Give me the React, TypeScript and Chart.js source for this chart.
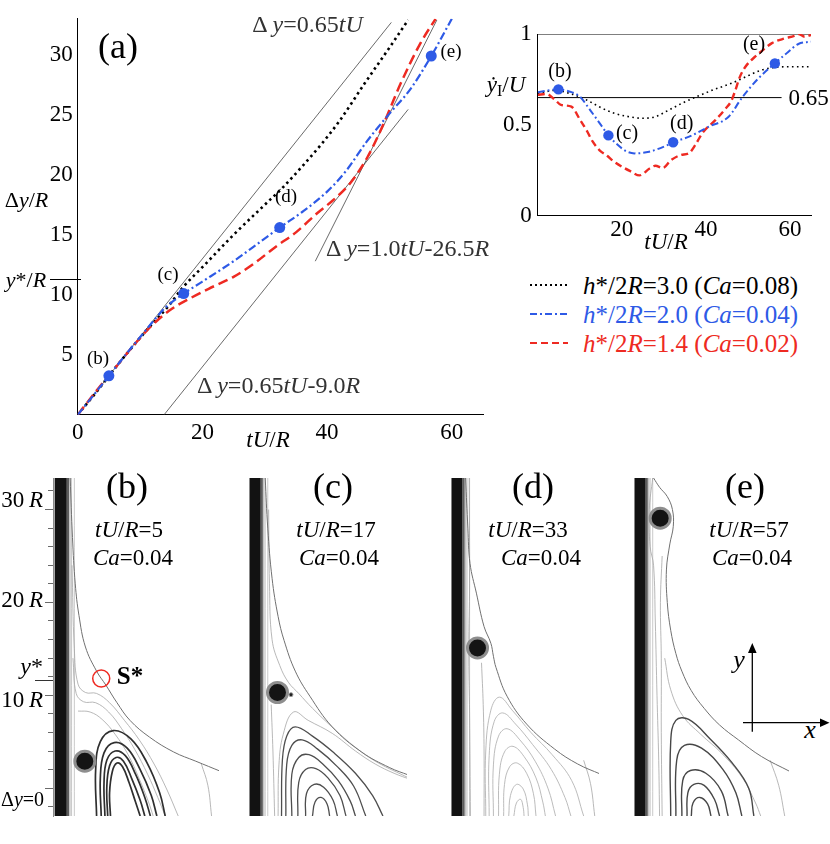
import { useEffect, useRef, type ReactNode } from "react"
import { Chart, registerables, type ChartConfiguration } from "chart.js"

Chart.register(...registerables)

type Pt = [number, number]

const SERIF = "'Liberation Serif', 'Times New Roman', Times, serif"
const BLUE = "#2e5ae6"
const RED = "#ee2a22"

// ---- (a) bubble rise, Δy/R against tU/R
const trajBlack: Pt[] = [
  [0, 0], [3, 1.9], [6, 3.9], [9, 5.8], [12, 7.6], [14.3, 8.9], [17, 10.7], [20, 12.3], [25, 15.0],
  [30, 17.5], [33, 19.0], [36, 20.7], [39, 22.5], [42, 24.5], [46, 27.6], [50, 30.6], [53, 32.9],
]
const trajBlue: Pt[] = [
  [0, 0], [2.5, 1.6], [5, 3.25], [8, 5.2], [11, 7.1], [14, 8.9], [17, 10.1], [20, 11.1], [25, 12.8],
  [29, 14.3], [32.4, 15.6], [36, 16.9], [40, 18.6], [43, 20.3], [46.4, 22.8], [50, 25.1], [53.3, 27.1],
  [56.7, 29.9], [60, 33],
]
const trajRed: Pt[] = [
  [0, 0], [3, 2], [6, 3.9], [9, 5.8], [12, 7.5], [15, 8.8], [18, 9.7], [21, 10.5], [25, 11.5], [28, 12.5],
  [32, 14.1], [35, 15.2], [38.4, 16.8], [41, 17.9], [43.7, 19.3], [46.4, 21.4], [48.5, 23.6], [50, 25.4],
  [51.7, 27.5], [55, 31], [57.4, 33],
]
const trajMarks: Pt[] = [[5, 3.25], [17, 10.1], [32.4, 15.6], [56.7, 29.9]]
const fit065: Pt[] = [[0, 0], [50.3, 32.7]]
const fit065b: Pt[] = [[13.85, 0], [53, 25.45]]
const fit10: Pt[] = [[38.1, 12.8], [57.6, 32.9]]
const aTicksX = [0, 20, 40, 60]
const aTicksY = [5, 10, 15, 20, 25, 30]

// ---- inset, rise velocity against tU/R
const velBlack: Pt[] = [
  [0, 0.67], [4, 0.69], [8, 0.67], [11.6, 0.637], [15, 0.595], [18, 0.565], [21, 0.548], [25, 0.536],
  [28, 0.545], [30.5, 0.573], [34.4, 0.62], [38.3, 0.66], [42, 0.695], [46.2, 0.73], [50, 0.77],
  [53, 0.8], [56, 0.815], [60, 0.82], [65, 0.82],
]
const velBlue: Pt[] = [
  [0, 0.68], [4.9, 0.695], [8, 0.68], [10, 0.655], [12.5, 0.58], [15, 0.5], [16.8, 0.442], [19, 0.39],
  [21, 0.355], [23, 0.343], [26.5, 0.352], [30.5, 0.385], [32.2, 0.404], [36, 0.435], [40.7, 0.49],
  [45.4, 0.545], [48.6, 0.65], [52.5, 0.756], [56.4, 0.838], [59.5, 0.9], [62, 0.945], [65, 0.958],
]
const velRed: Pt[] = [
  [0, 0.665], [2, 0.67], [4, 0.64], [5.5, 0.61], [8, 0.6], [10, 0.53], [11.6, 0.47], [13, 0.41],
  [14.7, 0.36], [16.5, 0.33], [18, 0.3], [20, 0.27], [22, 0.245], [24.2, 0.222], [26.6, 0.26],
  [28, 0.275], [29.7, 0.262], [31.7, 0.306], [34, 0.334], [36, 0.345], [37.5, 0.39], [39.1, 0.453],
  [42.3, 0.527], [44.7, 0.59], [46, 0.63], [47, 0.69], [48, 0.76], [49.4, 0.82], [51.7, 0.875],
  [54, 0.92], [55.7, 0.95], [58.8, 0.976], [61, 0.99], [62, 1.0], [63.5, 0.985], [65, 0.995],
]
const velMarks: Pt[] = [[4.9, 0.695], [16.8, 0.442], [32.2, 0.404], [56.4, 0.838]]
const velTop: Pt[] = [[0, 1], [65, 1]]
const velRef: Pt[] = [[0, 0.65], [58, 0.65]]
const vTicksX = [20, 40, 60]
const vTicksY = [0, 0.5, 1]

// ---- flow panels (b)-(e), x and y in R, wall surface at x = 0
const wallX = [-1.35, 0]
const wallEdge = [0.1, 0.32]
const nearWall = [0.5, 0.8]
const panelMinorTicks = [-2, 0, 2, 4, 6, 8, 10, 12, 14, 16, 18, 20, 22, 24, 26, 28, 30, 32]
const panelMajorTicks = [0, 10, 20, 30]

const bubbleB: Pt = [1.93, 2.9]
const saddleB: Pt = [3.7, 11.8]
const sepB: Pt[] = [
  [0.35, 33.4], [0.6, 27], [0.9, 22], [1.3, 18.6], [2.0, 15.2], [3.2, 12.6], [4.2, 11.1], [5.4, 9.2],
  [6.8, 7.3], [8.9, 5.5], [11.5, 3.9], [13.9, 2.9], [16.6, 1.8],
]
const innerB: Pt[][] = [
  [[0.55, 24], [0.8, 15], [1.2, 11.2], [2.0, 10.3], [3.2, 10.2], [4.6, 9.2], [6.2, 7.3], [7.8, 5.2], [9.4, 2.6], [10.8, -0.2], [12, -3]],
  [[0.65, 14], [1.0, 10.2], [1.8, 9.3], [3.1, 9.2], [4.5, 8.2], [5.9, 6.4], [7.3, 4.2], [8.7, 1.5], [9.8, -1], [10.6, -3]],
  [[1.2, 8.3], [2.5, 8.2], [3.8, 7.4], [5.2, 5.8], [6.6, 3.6], [7.8, 1.0], [8.8, -1.5], [9.3, -3]],
  [[14.5, 2.6], [15.2, 0.3], [15.6, -3]],
]
const loopsB: Pt[][] = [
  [[4.7, -3], [4.6, -0.5], [4.9, 1.8], [5.4, 2.7], [6.0, 2.3], [6.7, 0.6], [7.4, -1.5], [7.9, -3]],
  [[4.4, -3], [4.3, 0], [4.6, 2.4], [5.3, 3.3], [6.1, 2.9], [7.0, 1.0], [7.9, -1.3], [8.4, -3]],
  [[4.1, -3], [4.0, 0.5], [4.3, 3.0], [5.2, 4.0], [6.3, 3.5], [7.4, 1.5], [8.4, -1.0], [9.0, -3]],
  [[3.7, -3], [3.6, 1.0], [4.0, 3.8], [5.1, 4.9], [6.5, 4.3], [7.9, 2.0], [9.1, -0.8], [9.7, -3]],
  [[3.2, -3], [3.1, 2.0], [3.6, 5.0], [5.0, 6.2], [6.9, 5.3], [8.6, 2.8], [10.0, -0.5], [10.6, -3]],
]

const bubbleC: Pt = [1.93, 10.3]
const dotC: Pt = [3.5, 10.07]
const sepC: Pt[] = [
  [0.5, 33.4], [0.8, 28], [1.3, 22.6], [2.0, 18.5], [2.7, 15.9], [4.0, 12.6], [5.7, 9.9], [8.3, 6.6],
  [11.7, 3.9], [15, 2.2], [17.2, 1.4],
]
const innerC: Pt[][] = [
  [[0.9, 30], [1.0, 22], [1.3, 16], [2.2, 13.2], [3.2, 11.4], [4.4, 10.2], [6.0, 8.6], [8.5, 6.4], [11, 4.4], [13.5, 2.8], [17.2, 1.1]],
  [[2.0, -3], [2.1, 2.5], [2.6, 5.8], [3.8, 8.2], [5.5, 7.3], [8.3, 5.9], [11, 4.0], [13.3, 2.6], [15.5, 1.6], [17.5, 0.9]],
  [[1.2, 9], [1.4, 4], [1.6, -3]],
]
const loopsC: Pt[][] = [
  [[2.4, -3], [2.5, 3], [3.0, 5.6], [4.0, 6.6], [6.0, 5.6], [8.5, 3.8], [11, 1.6], [13, -0.8], [14.2, -3]],
  [[2.9, -3], [3.0, 2.5], [3.6, 4.6], [4.8, 5.2], [6.6, 4.2], [8.8, 2.4], [10.8, 0.2], [12.2, -3]],
  [[3.6, -3], [3.6, 1.5], [4.4, 3.3], [5.6, 3.6], [7.2, 2.6], [9.0, 0.8], [10.4, -1.4], [11, -3]],
  [[4.3, -3], [4.4, 0.6], [5.2, 2.0], [6.4, 2.1], [7.8, 1.1], [9.2, -0.8], [9.9, -3]],
  [[5.2, -3], [5.3, -0.6], [6.2, 0.4], [7.3, 0.1], [8.4, -1.3], [8.9, -3]],
  [[6.0, -3], [6.3, -1.5], [7.0, -1.0], [7.7, -1.7], [8.0, -3]],
]

const bubbleD: Pt = [1.73, 15.1]
const sepD: Pt[] = [
  [0.33, 33.4], [0.6, 28], [0.85, 24.2], [1.6, 21], [2.5, 17.4], [3.3, 15.6], [3.6, 14.2], [3.9, 13.0],
  [5.2, 9.9], [7.5, 6.9], [10.8, 4.2], [13.5, 2.6], [16.2, 1.5],
]
const innerD: Pt[][] = [
  [[0.75, 33.4], [0.8, 22], [0.7, 15], [0.8, 8], [0.9, -3]],
  [[2.2, 13.5], [2.4, 9], [2.5, 4], [2.5, -3]],
  [[14.2, 3.0], [15.0, 0.5], [15.5, -3]],
]
const loopsD: Pt[][] = [
  [[2.7, -3], [2.7, 4], [3.3, 8.4], [4.3, 9.8], [5.8, 8.4], [8.0, 6.0], [10.5, 3.6], [12.8, 0.8], [14.2, -3]],
  [[3.1, -3], [3.1, 3.5], [3.7, 7.2], [4.7, 8.1], [6.2, 6.9], [8.2, 4.7], [10.4, 2.0], [12.0, -1.0], [12.7, -3]],
  [[3.6, -3], [3.6, 2.5], [4.2, 5.6], [5.2, 6.4], [6.7, 5.2], [8.5, 2.9], [10.0, 0.0], [10.9, -3]],
  [[4.2, -3], [4.3, 1.5], [4.9, 3.9], [5.9, 4.5], [7.2, 3.4], [8.6, 1.1], [9.4, -1.5], [9.7, -3]],
  [[4.8, -3], [4.9, 0.4], [5.5, 2.3], [6.4, 2.7], [7.5, 1.6], [8.3, -0.6], [8.6, -3]],
  [[5.4, -3], [5.6, -0.8], [6.3, 0.4], [7.1, -0.1], [7.6, -1.8], [7.7, -3]],
  [[6.0, -3], [6.3, -1.6], [6.8, -1.2], [7.1, -2.1], [7.2, -3]],
]

const bubbleE: Pt = [1.67, 29.07]
const sepE: Pt[] = [
  [0.9, 33.4], [1.6, 32.4], [2.5, 31.4], [3.1, 30], [3.2, 28.2], [2.8, 26.3], [2.4, 23.5], [2.5, 20],
  [2.9, 17], [3.5, 14.5], [4.2, 12.6], [5.3, 10.5], [6.8, 8.6], [8.6, 6.8], [10.8, 5.2], [13.5, 3.4], [16.8, 1.8],
]
const innerE: Pt[][] = [
  [[0.8, 33.4], [0.4, 30], [0.5, 26], [0.9, 24], [1.1, 18], [1.3, 10], [1.5, 3], [1.6, -3]],
  [[1.9, 25], [1.7, 20], [1.8, 14], [1.8, 6], [1.9, -3]],
  [[2.2, 14], [2.9, 10.6], [4.3, 7.8], [6.4, 5.8], [8.8, 3.8], [11.2, 1.2], [12.8, -1.6], [13.4, -3]],
  [[14.5, 3.0], [15.5, 0.3], [16.2, -3]],
]
const loopsE: Pt[][] = [
  [[5.3, -3], [5.5, -1.6], [6.3, -1.0], [7.2, -1.7], [7.6, -3]],
  [[4.8, -3], [4.9, -0.5], [5.6, 0.4], [6.8, 0.3], [8.0, -1.2], [8.6, -3]],
  [[4.2, -3], [4.3, 0.8], [5.2, 1.9], [7.0, 1.6], [8.8, -0.3], [9.6, -3]],
  [[3.5, -3], [3.6, 3.0], [4.5, 4.6], [6.5, 4.3], [9.0, 2.0], [10.5, -0.5], [11.2, -3]],
  [[2.9, -3], [2.9, 5.0], [3.5, 7.3], [5.0, 7.4], [7.5, 5.3], [10.0, 2.8], [12.0, 0.0], [12.6, -3]],
]

const xy = (pts: Pt[]) => pts.map(([x, y]) => ({ x, y }))
const fixTicks = (vals: number[]) => (scale: any) => {
  scale.ticks = vals.map((value) => ({ value }))
}
const tickFont = { family: SERIF, size: 23 }

function curve(pts: Pt[], color: string, width: number, dash: number[]) {
  return {
    data: xy(pts),
    borderColor: color,
    borderWidth: width,
    borderDash: dash,
    pointRadius: 0,
    fill: false,
    cubicInterpolationMode: "monotone",
  }
}

function marks(pts: Pt[], r: number) {
  return { data: xy(pts), showLine: false, pointRadius: r, pointBackgroundColor: BLUE, pointBorderWidth: 0 }
}

function stream(pts: Pt[], color: string, width: number) {
  return { data: xy(pts), borderColor: color, borderWidth: width, pointRadius: 0, fill: false, tension: 0.4 }
}

function axis(min: number, max: number, ticks: number[], fit: (s: any) => void, pad: number) {
  return {
    type: "linear",
    min,
    max,
    afterBuildTicks: fixTicks(ticks),
    afterFit: fit,
    grid: { display: false, drawTicks: false },
    border: { display: true, color: "#000", width: 1 },
    ticks: {
      font: tickFont, color: "#000", padding: pad, maxRotation: 0, autoSkip: false,
      callback: (v: number) => String(v),
    },
  }
}

const quiet = { legend: { display: false }, tooltip: { enabled: false } }

const trajectoryConfig = (): ChartConfiguration =>
  ({
    type: "line",
    data: {
      datasets: [
        marks(trajMarks, 5.5),
        curve(trajBlue, BLUE, 2.2, [8, 3, 2, 3]),
        curve(trajRed, RED, 2.5, [10, 5]),
        curve(trajBlack, "#000", 2.6, [2.5, 3.5]),
        curve(fit065, "#444", 0.8, []),
        curve(fit065b, "#444", 0.8, []),
        curve(fit10, "#444", 0.8, []),
      ],
    },
    options: {
      animation: false,
      responsive: false,
      events: [],
      layout: { padding: { top: 8, right: 7, left: 0, bottom: 0 } },
      plugins: quiet,
      scales: {
        x: axis(0, 65, aTicksX, (s) => { s.height = 40.2 }, 4),
        y: axis(0, 33, aTicksY, (s) => { s.width = 77.7 }, 5),
      },
    },
  }) as any

const velocityConfig = (): ChartConfiguration =>
  ({
    type: "line",
    data: {
      datasets: [
        marks(velMarks, 5.2),
        curve(velBlue, BLUE, 2, [7, 3, 1.8, 3]),
        curve(velRed, RED, 2.4, [7, 4]),
        curve(velBlack, "#000", 1.6, [1.6, 3.4]),
        curve(velTop, "#000", 1, []),
        curve(velRef, "#000", 1, []),
      ],
    },
    options: {
      animation: false,
      responsive: false,
      events: [],
      layout: { padding: { top: 34, right: 19, left: 0, bottom: 0 } },
      plugins: quiet,
      scales: {
        x: axis(0, 65, vTicksX, (s) => { s.height = 34.3 }, 0),
        y: axis(0, 1, vTicksY, (s) => { s.width = 47.8 }, 6),
      },
    },
  }) as any

type Panel = {
  key: string
  surface: number
  right: number
  axis: boolean
  sep: Pt[]
  inner: Pt[][]
  loops: Pt[][]
  loopColor: string
  loopWidth: number
  bubble: Pt
  saddle?: Pt
  dot?: Pt
}

const panels: Panel[] = [
  { key: "b", surface: 68, right: 232, axis: true, sep: sepB, inner: innerB, loops: loopsB, loopColor: "#2f2f2f", loopWidth: 1.7, bubble: bubbleB, saddle: saddleB },
  { key: "c", surface: 250, right: 420, axis: false, sep: sepC, inner: innerC, loops: loopsC, loopColor: "#4e4e4e", loopWidth: 1.3, bubble: bubbleC, dot: dotC },
  { key: "d", surface: 451.7, right: 611.7, axis: false, sep: sepD, inner: innerD, loops: loopsD, loopColor: "#b4b4b4", loopWidth: 0.9, bubble: bubbleD },
  { key: "e", surface: 635, right: 802, axis: false, sep: sepE, inner: innerE, loops: loopsE, loopColor: "#474747", loopWidth: 1.4, bubble: bubbleE },
]

const Y_MIN = -3
const Y_MAX = 33.4

function panelConfig(p: Panel): ChartConfiguration {
  const datasets: any[] = []
  datasets.push({
    data: xy([p.bubble]), showLine: false, pointRadius: 10, pointBorderWidth: 3,
    pointBackgroundColor: "#141414", pointBorderColor: "#8e8e8e",
  })
  if (p.saddle) {
    datasets.push({
      data: xy([p.saddle]), showLine: false, pointRadius: 8.5, pointBorderWidth: 1.5,
      pointBackgroundColor: "rgba(0,0,0,0)", pointBorderColor: RED,
    })
  }
  if (p.dot) {
    datasets.push({
      data: xy([p.dot]), showLine: false, pointRadius: 2, pointBorderWidth: 1,
      pointBackgroundColor: "#222", pointBorderColor: "#999",
    })
  }
  p.loops.forEach((l) => datasets.push(stream(l, p.loopColor, p.loopWidth)))
  datasets.push(stream(p.sep, "#707070", 1))
  p.inner.forEach((l) => datasets.push(stream(l, "#a6a6a6", 0.8)))
  nearWall.forEach((x) => datasets.push(stream([[x, Y_MIN], [x, Y_MAX]], "#b0b0b0", 0.7)))
  datasets.push(stream([[wallEdge[1], Y_MIN], [wallEdge[1], Y_MAX]], "#c4c4c4", 1.6))
  datasets.push(stream([[wallEdge[0], Y_MIN], [wallEdge[0], Y_MAX]], "#5c5c5c", 2.4))
  datasets.push({
    data: xy([[wallX[0], Y_MAX], [wallX[1], Y_MAX]]),
    borderWidth: 0, pointRadius: 0, fill: "start", backgroundColor: "#121212",
  })

  const scales: any = {
    x: { type: "linear", display: false, min: -1.5, max: (p.right - p.surface) / 10 },
  }
  if (p.axis) {
    scales.y = {
      type: "linear", position: "left", weight: 1, min: Y_MIN, max: Y_MAX,
      afterBuildTicks: fixTicks(panelMinorTicks),
      afterFit: (s: any) => { s.width = 53 },
      ticks: { display: false },
      grid: { display: true, drawOnChartArea: false, drawTicks: true, tickLength: 5, color: "#6a6a6a" },
      border: { display: true, color: "#8a8a8a" },
    }
    scales.yMaj = {
      type: "linear", position: "left", weight: 0, min: Y_MIN, max: Y_MAX,
      afterBuildTicks: fixTicks(panelMajorTicks),
      afterFit: (s: any) => { s.width = 0 },
      ticks: { display: false },
      grid: { display: true, drawOnChartArea: false, drawTicks: true, tickLength: 8, color: "#6a6a6a" },
      border: { display: false },
    }
  } else {
    scales.y = { type: "linear", display: false, min: Y_MIN, max: Y_MAX }
  }

  return {
    type: "line",
    data: { datasets },
    options: {
      animation: false,
      responsive: false,
      events: [],
      layout: { padding: 0 },
      plugins: quiet,
      scales,
    },
  } as any
}

function ChartCanvas(props: { left: number; top: number; width: number; height: number; make: () => ChartConfiguration }) {
  const ref = useRef<HTMLCanvasElement>(null)
  useEffect(() => {
    if (!ref.current) return
    const chart = new Chart(ref.current, props.make())
    return () => chart.destroy()
  }, [])
  const { left, top, width, height } = props
  return <canvas ref={ref} width={width} height={height} style={{ position: "absolute", left, top, width, height }} />
}

function T(props: { x: number; y: number; size?: number; color?: string; anchor?: "l" | "c" | "r"; bold?: boolean; children: ReactNode }) {
  const { x, y, size = 23, color = "#000", anchor = "c", bold = false, children } = props
  const tx = anchor === "c" ? "-50%" : anchor === "r" ? "-100%" : "0"
  return (
    <div
      style={{
        position: "absolute", left: x, top: y, transform: `translate(${tx}, -50%)`,
        fontFamily: SERIF, fontSize: size, lineHeight: 1, color, whiteSpace: "nowrap",
        fontWeight: bold ? "bold" : "normal",
      }}
    >
      {children}
    </div>
  )
}

const legendRows = [
  { y: 285, color: "#000", dash: "2 3", h: "3.0", ca: "0.08" },
  { y: 314, color: BLUE, dash: "7 3 2 3", h: "2.0", ca: "0.04" },
  { y: 343, color: RED, dash: "7 4", h: "1.4", ca: "0.02" },
]

const panelTexts = [
  { label: "(b)", lx: 127, t: "5", tx: 129, cx: 133 },
  { label: "(c)", lx: 333, t: "17", tx: 336, cx: 339 },
  { label: "(d)", lx: 533, t: "33", tx: 528, cx: 541 },
  { label: "(e)", lx: 745, t: "57", tx: 749, cx: 752 },
]

const panelYLabels = [
  { y: 499, text: <>30&#8201;<i>R</i></> },
  { y: 599, text: <>20&#8201;<i>R</i></> },
  { y: 699, text: <>10&#8201;<i>R</i></> },
]

export default function App() {
  return (
    <div style={{ position: "absolute", left: 0, top: 0, width: 830, height: 844, background: "#fff", overflow: "hidden" }}>
      <ChartCanvas left={0} top={0} width={490} height={455} make={trajectoryConfig} />
      <ChartCanvas left={490} top={0} width={340} height={250} make={velocityConfig} />
      {panels.map((p) => {
        const left = p.axis ? 0 : p.surface - 15
        return <ChartCanvas key={p.key} left={left} top={465} width={p.right - left} height={364} make={() => panelConfig(p)} />
      })}

      {/* (a) labels */}
      <T x={118} y={46} size={36}>(a)</T>
      <T x={26.5} y={200} size={22}>&Delta;<i>y</i>/<i>R</i></T>
      <T x={26} y={280} size={22}><i>y</i>*/<i>R</i></T>
      <div style={{ position: "absolute", left: 50, top: 278.5, width: 31, borderTop: "1px solid #000" }} />
      <T x={98} y={357} size={19}>(b)</T>
      <T x={168} y={273} size={19}>(c)</T>
      <T x={286} y={195} size={19}>(d)</T>
      <T x={451} y={50} size={19}>(e)</T>
      <T x={307.5} y={24} size={24} color="#333">&Delta;&#8201;<i>y</i>=0.65<i>tU</i></T>
      <T x={407.5} y={248} size={24} color="#333">&Delta;&#8201;<i>y</i>=1.0<i>tU</i>-26.5<i>R</i></T>
      <T x={278.5} y={385} size={24} color="#333">&Delta;&#8201;<i>y</i>=0.65<i>tU</i>-9.0<i>R</i></T>
      <T x={268} y={439} size={23}><i>tU</i>/<i>R</i></T>

      {/* inset labels */}
      <T x={506} y={86} size={23}><i>y&#775;</i><span style={{ fontSize: 16, verticalAlign: "-0.25em" }}>I</span>/<i>U</i></T>
      <T x={808.5} y={97} size={23}>0.65</T>
      <T x={560} y={70} size={20}>(b)</T>
      <T x={627} y={132} size={20}>(c)</T>
      <T x={681.7} y={122} size={20}>(d)</T>
      <T x={754} y={43} size={20}>(e)</T>
      <T x={666} y={241} size={23}><i>tU</i>/<i>R</i></T>

      {/* legend */}
      {legendRows.map((r) => (
        <T key={r.h} x={583} y={r.y} size={25} color={r.color} anchor="l">
          <i>h</i>*/2<i>R</i>={r.h} (<i>Ca</i>={r.ca})
        </T>
      ))}

      {/* flow panel labels */}
      {panelYLabels.map((l) => (
        <T key={l.y} x={43} y={l.y} size={23} anchor="r">{l.text}</T>
      ))}
      <T x={1} y={799} size={20} anchor="l">&Delta;<i>y</i>=0</T>
      <T x={43} y={666} size={24} anchor="r"><i>y</i>*</T>
      <div style={{ position: "absolute", left: 35, top: 679.5, width: 18, borderTop: "1px solid #333" }} />
      {panelTexts.map((p) => (
        <div key={p.label}>
          <T x={p.lx} y={486} size={36}>{p.label}</T>
          <T x={p.tx} y={529} size={23}><i>tU</i>/<i>R</i>={p.t}</T>
          <T x={p.cx} y={557} size={23}><i>Ca</i>=0.04</T>
        </div>
      ))}
      <T x={130} y={675} size={25} bold>S*</T>
      <T x={739} y={660} size={26}><i>y</i></T>
      <T x={810} y={730} size={26}><i>x</i></T>

      <svg width={830} height={844} style={{ position: "absolute", left: 0, top: 0, pointerEvents: "none" }}>
        {legendRows.map((r) => (
          <line key={r.h} x1={530} y1={r.y} x2={568} y2={r.y} stroke={r.color} strokeWidth={2} strokeDasharray={r.dash} />
        ))}
        <line x1={752.3} y1={731.7} x2={752.3} y2={652} stroke="#000" strokeWidth={1.3} />
        <polygon points="748,653 756.6,653 752.3,643" fill="#000" />
        <line x1={743} y1={722.7} x2={821} y2={722.7} stroke="#000" strokeWidth={1.3} />
        <polygon points="820,718.4 820,727 829.5,722.7" fill="#000" />
      </svg>
    </div>
  )
}
